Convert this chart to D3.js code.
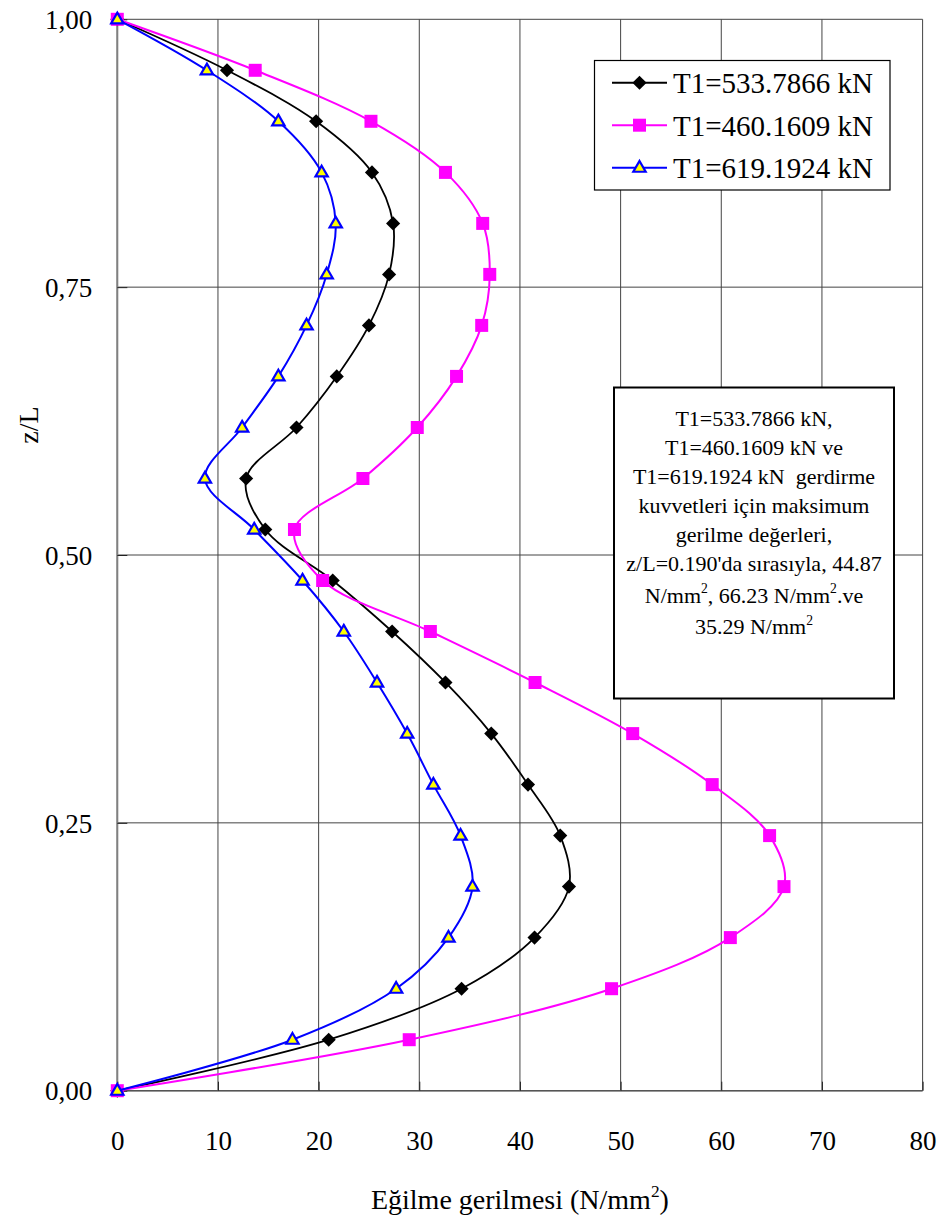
<!DOCTYPE html>
<html><head><meta charset="utf-8">
<script src="https://cdn.jsdelivr.net/npm/d3@7"></script>
<style>
body{margin:0;background:#fff}
svg text{font-family:'Liberation Serif','Times New Roman',Times,'DejaVu Serif','Noto Serif',serif !important;fill:#000}
</style>
</head><body>
<svg id="c" width="945" height="1222"></svg>
<script>
// ---------- data ----------
const zL = [0, 0.0476, 0.0952, 0.1429, 0.1905, 0.2381, 0.2857, 0.3333, 0.3810, 0.4286, 0.4762,
            0.5238, 0.5714, 0.6190, 0.6667, 0.7143, 0.7619, 0.8095, 0.8571, 0.9048, 0.9524, 1];
const seriesNames = ["T1=533.7866 kN", "T1=460.1609 kN", "T1=619.1924 kN"];
const valsT533 = [0, 21.0, 34.2, 41.45, 44.87, 44.0, 40.8, 37.15, 32.6, 27.3, 21.4,
                  14.7, 12.8, 17.8, 21.8, 25.0, 27.0, 27.4, 25.3, 19.75, 10.9, 0];
const valsT460 = [0, 29.0, 49.1, 60.9, 66.23, 64.8, 59.1, 51.2, 41.5, 31.1, 20.4,
                  17.6, 24.4, 29.8, 33.7, 36.2, 37.0, 36.3, 32.6, 25.2, 13.7, 0];
const valsT619 = [0, 17.4, 27.7, 32.9, 35.29, 34.1, 31.4, 28.8, 25.8, 22.5, 18.4,
                  13.6, 8.7, 12.4, 16.0, 18.8, 20.8, 21.7, 20.3, 16.0, 8.9, 0];
const xTicks = [0, 10, 20, 30, 40, 50, 60, 70, 80];
const yTicks = [0, 0.25, 0.5, 0.75, 1];
const yTickLabels = ["0,00", "0,25", "0,50", "0,75", "1,00"];
const xTitle = "Eğilme gerilmesi (N/mm^2)";
const yTitle = "z/L";
const noteLines = [
  "T1=533.7866 kN,",
  "T1=460.1609 kN ve",
  "T1=619.1924 kN  gerdirme",
  "kuvvetleri için maksimum",
  "gerilme değerleri,",
  "z/L=0.190'da sırasıyla, 44.87",
  "N/mm^2, 66.23 N/mm^2.ve",
  "35.29 N/mm^2"
];

// ---------- layout ----------
const FONT = "'Liberation Serif','Times New Roman',Times,'DejaVu Serif',serif";
const svg = d3.select("#c").attr("font-family", FONT);
const L = 117.3, R = 922.6, T = 19.3, B = 1090.7;
const x = d3.scaleLinear().domain([0, 80]).range([L, R]);
const y = d3.scaleLinear().domain([0, 1]).range([B, T]);

// grid
const g = svg.append("g");
g.selectAll(".vg").data(xTicks).join("line")
  .attr("x1", d => x(d)).attr("x2", d => x(d)).attr("y1", T).attr("y2", B)
  .attr("stroke", "#444").attr("stroke-width", 1);
g.selectAll(".hg").data(yTicks).join("line")
  .attr("y1", d => y(d)).attr("y2", d => y(d)).attr("x1", L).attr("x2", R)
  .attr("stroke", "#444").attr("stroke-width", 1);
// axes lines
svg.append("line").attr("x1", L).attr("x2", L).attr("y1", T).attr("y2", B)
  .attr("stroke", "#808080").attr("stroke-width", 2);
svg.append("line").attr("x1", L).attr("x2", R).attr("y1", B).attr("y2", B)
  .attr("stroke", "#555").attr("stroke-width", 1.5);

// axes via d3 axis (ticks inside)
const xAxis = d3.axisBottom(x).tickValues(xTicks).tickSize(-9).tickPadding(30)
  .tickFormat(d3.format("d"));
const gx = svg.append("g").attr("transform", `translate(0,${B})`).call(xAxis)
  .attr("font-family", FONT);
gx.select(".domain").remove();
gx.selectAll(".tick line").attr("stroke", "#222");
gx.selectAll(".tick text").attr("font-size", 27).attr("font-family", FONT)
  .attr("dy", null).attr("y", 59);

const yAxis = d3.axisLeft(y).tickValues(yTicks).tickSize(-10).tickPadding(25)
  .tickFormat((d, i) => yTickLabels[i]);
const gy = svg.append("g").attr("transform", `translate(${L},0)`).call(yAxis)
  .attr("font-family", FONT);
gy.select(".domain").remove();
gy.selectAll(".tick line").attr("stroke", "#222");
gy.selectAll(".tick text").attr("font-size", 27).attr("font-family", FONT)
  .attr("dy", "0.34em");

// text with ^2 superscripts
function richText(sel, str, size) {
  const parts = str.split("^2");
  parts.forEach((p, i) => {
    sel.append("tspan").text(p).attr("dy", i > 0 ? size * 0.42 : null);
    if (i < parts.length - 1) {
      sel.append("tspan").text("2").attr("font-size", size * 0.62).attr("dy", -size * 0.42);
    }
  });
}

// titles
const xt = svg.append("text").attr("x", (L + R) / 2).attr("y", 1209)
  .attr("text-anchor", "middle").attr("font-size", 28);
richText(xt, xTitle, 28);
svg.append("text").attr("transform", `translate(38,425) rotate(-90)`)
  .attr("text-anchor", "middle").attr("font-size", 28).text(yTitle);

// series
const series = [
  {name: seriesNames[0], vals: valsT533, color: "#000000", width: 1.8, marker: "diamond"},
  {name: seriesNames[1], vals: valsT460, color: "#FF00FF", width: 2, marker: "square"},
  {name: seriesNames[2], vals: valsT619, color: "#0000FF", width: 2, marker: "triangle"}
];
const line = d3.line().x(d => x(d[0])).y(d => y(d[1])).curve(d3.curveCatmullRom.alpha(0.5));

function drawMarker(sel, type, cx, cy) {
  if (type === "diamond") {
    sel.append("path").attr("d", d3.symbol(d3.symbolSquare, 100)())
      .attr("transform", `translate(${cx},${cy}) rotate(45)`).attr("fill", "#000");
  } else if (type === "square") {
    sel.append("path").attr("d", d3.symbol(d3.symbolSquare, 169)())
      .attr("transform", `translate(${cx},${cy})`).attr("fill", "#FF00FF");
  } else {
    sel.append("path").attr("d", d3.symbol(d3.symbolTriangle, 66)())
      .attr("transform", `translate(${cx},${cy + 0.5})`).attr("fill", "#FFFF00")
      .attr("stroke", "#0000FF").attr("stroke-width", 2.2).attr("stroke-linejoin", "miter");
  }
}

series.forEach(s => {
  const pts = s.vals.map((v, i) => [v, zL[i]]);
  svg.append("path").datum(pts).attr("d", line).attr("fill", "none")
    .attr("stroke", s.color).attr("stroke-width", s.width);
  const mg = svg.append("g");
  pts.forEach(p => drawMarker(mg, s.marker, x(p[0]), y(p[1])));
});

// legend
const lg = svg.append("g");
lg.append("rect").attr("x", 594.5).attr("y", 60.5).attr("width", 295.5).attr("height", 129.5)
  .attr("fill", "#fff").attr("stroke", "#000").attr("stroke-width", 1.2);
series.forEach((s, i) => {
  const ry = 82.7 + i * 42.5;
  lg.append("line").attr("x1", 612).attr("x2", 667).attr("y1", ry).attr("y2", ry)
    .attr("stroke", s.color).attr("stroke-width", 2);
  drawMarker(lg, s.marker, 639.5, ry);
  lg.append("text").attr("x", 673).attr("y", ry + 10.5).attr("font-size", 29).text(s.name);
});

// annotation box
const ag = svg.append("g");
ag.append("rect").attr("x", 614).attr("y", 387.5).attr("width", 280).attr("height", 311)
  .attr("fill", "#fff").attr("stroke", "#000").attr("stroke-width", 2);
let by = 426;
noteLines.forEach((ln, i) => {
  if (i > 0) by += (ln.includes("^2") ? 31.5 : 29);
  const t = ag.append("text").attr("x", 754).attr("y", by).attr("text-anchor", "middle")
    .attr("font-size", 22).style("white-space", "pre");
  richText(t, ln, 22);
});
</script>
</body></html>
